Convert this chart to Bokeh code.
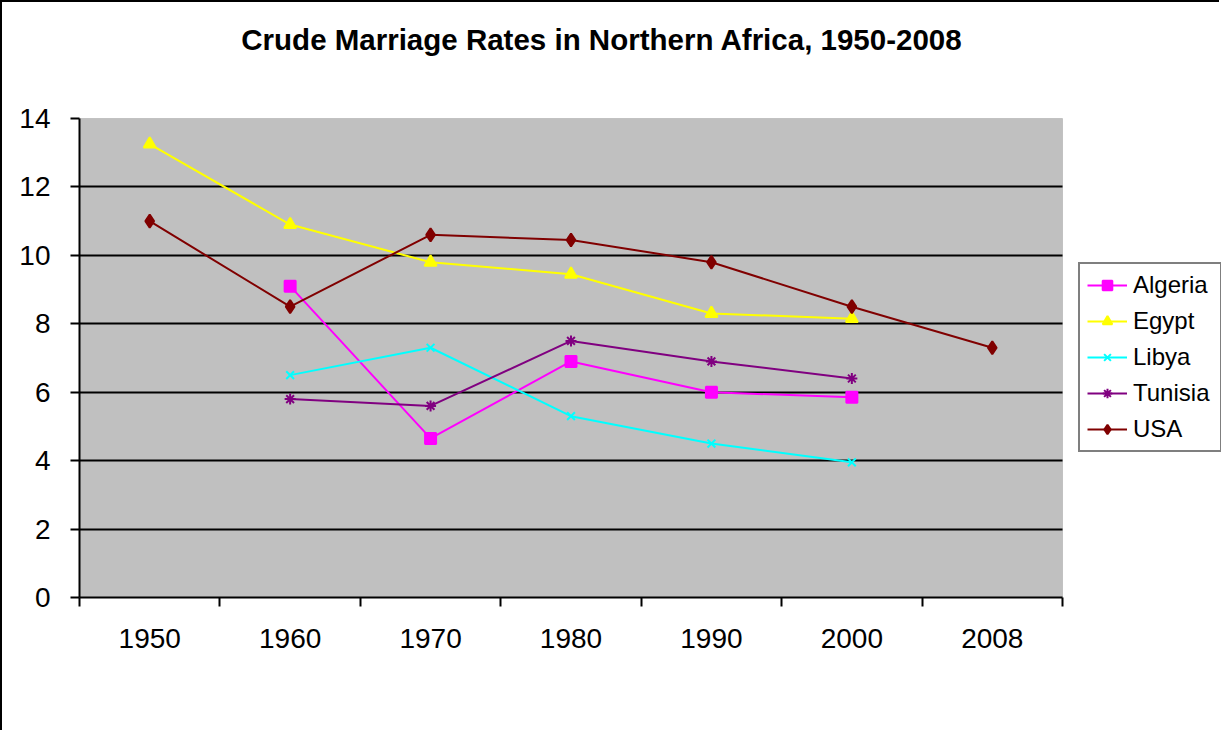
import numpy as np
from bokeh.plotting import figure
from bokeh.models import FixedTicker, Legend, LegendItem, Label, BoxAnnotation
from bokeh.embed import file_html
from bokeh.resources import INLINE

years = ["1950", "1960", "1970", "1980", "1990", "2000", "2008"]
algeria = [None, 9.1, 4.65, 6.9, 6.0, 5.85, None]
egypt = [13.25, 10.9, 9.8, 9.45, 8.3, 8.15, None]
libya = [None, 6.5, 7.3, 5.3, 4.5, 3.95, None]
tunisia = [None, 5.8, 5.6, 7.5, 6.9, 6.4, None]
usa = [11.0, 8.5, 10.6, 10.45, 9.8, 8.5, 7.3]
y_ticks = [0, 2, 4, 6, 8, 10, 12, 14]

series = [
    ("Algeria", algeria, "#FF00FF", "square", 11),
    ("Egypt", egypt, "#FFFF00", "triangle", 12),
    ("Libya", libya, "#00FFFF", "x", 11),
    ("Tunisia", tunisia, "#800080", "asterisk", 11),
    ("USA", usa, "#800000", "diamond", 13),
]

FONT = "Liberation Sans"
xs = np.arange(len(years))
y_max = y_ticks[-1]

# layout (pixels): grey plot area 983x479; the frame also holds title and legend
PLOT_W, PLOT_H = 983, 479
FRAME_W, FRAME_H = 1142, 595
x_end = -0.5 + len(years) * FRAME_W / PLOT_W
y_end = y_max * FRAME_H / PLOT_H

p = figure(width=1219, height=730, x_range=(-0.5, x_end), y_range=(0, y_end),
           output_backend="svg", toolbar_location=None,
           min_border_left=77, min_border_right=0, min_border_top=0, min_border_bottom=135)
p.styles = {"border-left": "2px solid black", "border-top": "2px solid black"}
p.background_fill_color = "white"
p.border_fill_color = "white"
p.outline_line_color = None

area = BoxAnnotation(left=-0.5, right=len(years) - 0.5, bottom=0, top=y_max,
                     fill_color="#C0C0C0", fill_alpha=1, line_color="#808080", line_width=1,
                     level="image")
p.add_layout(area)

# axes
p.xaxis.ticker = FixedTicker(ticks=list(xs), minor_ticks=list(xs - 0.5) + [len(years) - 0.5])
p.xaxis.major_label_overrides = {int(i): y for i, y in zip(xs, years)}
p.xaxis.bounds = (-0.5, len(years) - 0.5)
p.xaxis.major_tick_line_color = None
p.xaxis.minor_tick_line_color = "black"
p.xaxis.minor_tick_line_width = 2
p.xaxis.minor_tick_out = 9
p.xaxis.minor_tick_in = 0
p.xaxis.major_label_standoff = 22
p.yaxis.ticker = FixedTicker(ticks=y_ticks)
p.yaxis.bounds = (0, y_max)
p.yaxis.major_tick_out = 9
p.yaxis.major_tick_in = 0
p.yaxis.minor_tick_line_color = None
p.yaxis.major_label_standoff = 20
for ax in (p.xaxis, p.yaxis):
    ax.axis_line_color = "black"
    ax.axis_line_width = 2
    ax.major_tick_line_width = 2
    ax.major_label_text_font = FONT
    ax.major_label_text_font_size = "28px"
    ax.major_label_text_color = "black"

p.xgrid.grid_line_color = None
p.ygrid.ticker = FixedTicker(ticks=y_ticks[1:-1])
p.ygrid.cross_bounds = (-0.5, len(years) - 0.5)
p.ygrid.grid_line_color = "black"
p.ygrid.grid_line_width = 2

items = []
for name, vals, color, marker, size in series:
    y = np.array([np.nan if v is None else v for v in vals], dtype=float)
    r1 = p.line(xs, y, line_color=color, line_width=2)
    r2 = p.scatter(xs, y, marker=marker, size=size, fill_color=color, line_color=color, line_width=2)
    items.append(LegendItem(label=name, renderers=[r1, r2]))

legend = Legend(items=items, location=(999, 145), padding=7, margin=0, spacing=8,
                glyph_width=40, glyph_height=24, label_height=24, label_width=80,
                label_standoff=6,
                label_text_font=FONT, label_text_font_size="24px", label_text_color="black",
                border_line_color="black", border_line_width=2, background_fill_color="white",
                background_fill_alpha=1)
p.add_layout(legend, "center")

title = Label(x=522.5, y=558, x_units="screen", y_units="screen",
              text="Crude Marriage Rates in Northern Africa, 1950-2008",
              text_font=FONT, text_font_size="29.5px", text_font_style="bold",
              text_align="center", text_baseline="middle", text_color="black")
p.add_layout(title)

open("out.html", "w").write(file_html(p, INLINE))
